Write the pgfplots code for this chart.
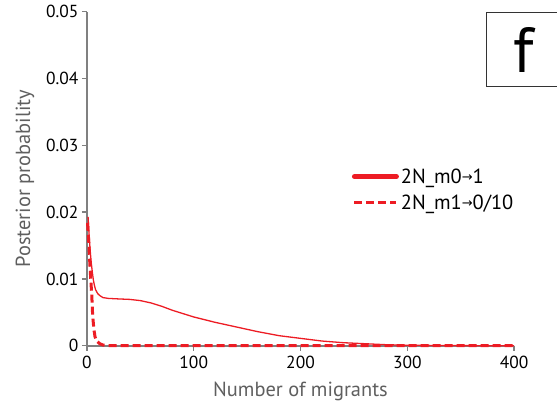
\documentclass[border=0pt]{standalone}
\usepackage{pgfplots}
\pgfplotsset{compat=1.18}
\usepackage{fontspec}
\setmainfont{PT Sans}
\newfontfamily\symfont{DejaVu Sans}
\definecolor{myred}{RGB}{237,28,36}
\definecolor{axgrey}{RGB}{128,128,128}
\definecolor{labgrey}{RGB}{95,95,95}
\begin{document}
\begin{tikzpicture}
\begin{axis}[
  width=427bp, height=334bp, scale only axis=true,
  xmin=0, xmax=400, ymin=0, ymax=0.05,
  axis x line*=bottom, axis y line*=left,
  axis line style={axgrey, line width=1.6bp},
  tick style={axgrey, line width=1.2bp},
  tick align=outside, major tick length=5bp,
  xtick={0,100,200,300,400},
  ytick={0,0.01,0.02,0.03,0.04,0.05},
  yticklabels={0,0.01,0.02,0.03,0.04,0.05},
  scaled y ticks=false,
  /pgf/number format/assume math mode=true,
  tick label style={font=\fontsize{17.5}{20}\selectfont, text=black},
  xticklabel style={yshift=-2bp},
  xlabel={Number of migrants}, ylabel={Posterior probability},
  label style={font=\fontsize{20.5}{22}\selectfont, text=labgrey},
  xlabel style={at={(axis description cs:0.5,-0.153)}, anchor=base},
  ylabel style={at={(axis description cs:-0.145,0.5)}, anchor=center},
  clip=false,
  legend style={draw=none, fill=none, at={(axis description cs:0.62,0.537)}, anchor=north west,
    font=\fontsize{20.5}{22}\selectfont, row sep=6bp, inner sep=0pt},
  legend cell align=left,
]
\addplot[myred, line width=1.3bp, legend image code/.code={\draw[myred, line width=5bp, line cap=round] (0bp,0bp) -- (42bp,0bp);}] coordinates {
(1,0.0193) (2,0.0165) (3,0.0142) (4,0.0124) (5,0.0110) (6,0.0098) (7,0.0090) (8,0.0084)
(10,0.0078) (12,0.0075) (15,0.0072) (20,0.00708) (30,0.00700) (40,0.00693) (50,0.00675)
(60,0.0064) (70,0.0059) (80,0.0053) (90,0.0048) (100,0.0043) (120,0.0035) (140,0.0028)
(160,0.0021) (180,0.0015) (200,0.0011) (220,0.0007) (240,0.00045) (260,0.0003)
(280,0.00015) (300,0.00007) (350,0.00001) (400,0)
};
\addlegendentry{2N\_m0\raisebox{1.5bp}{\symfont\fontsize{13}{14}\selectfont→}1}
\addplot[myred, line width=3bp, dash pattern=on 8bp off 4bp, legend image code/.code={\draw[myred, line width=3bp, dash pattern=on 8bp off 4bp] (0bp,0bp) -- (42bp,0bp);}] coordinates {
(0.5,0.0184) (1.5,0.0160) (2.5,0.0128) (3.5,0.0100) (4.5,0.0075) (5.3,0.0045) (6.5,0.0024)
(7.5,0.00135) (9,0.0007) (12,0.0003) (15,0.0001) (20,0) (400,0)
};
\addlegendentry{2N\_m1\raisebox{1.5bp}{\symfont\fontsize{13}{14}\selectfont→}0/10}
\draw[black!80, line width=0.8bp] (axis cs:373.8,0.0388) rectangle (axis cs:445,0.0499);
\node[font=\fontsize{64}{64}\selectfont, anchor=center] at (axis cs:408.7,0.0443) {f};
\end{axis}
\pgfresetboundingbox
\path ([shift={(-87bp,-70.3bp)}]current axis.south west) rectangle ([shift={(470bp,345.7bp)}]current axis.south west);
\end{tikzpicture}
\end{document}
